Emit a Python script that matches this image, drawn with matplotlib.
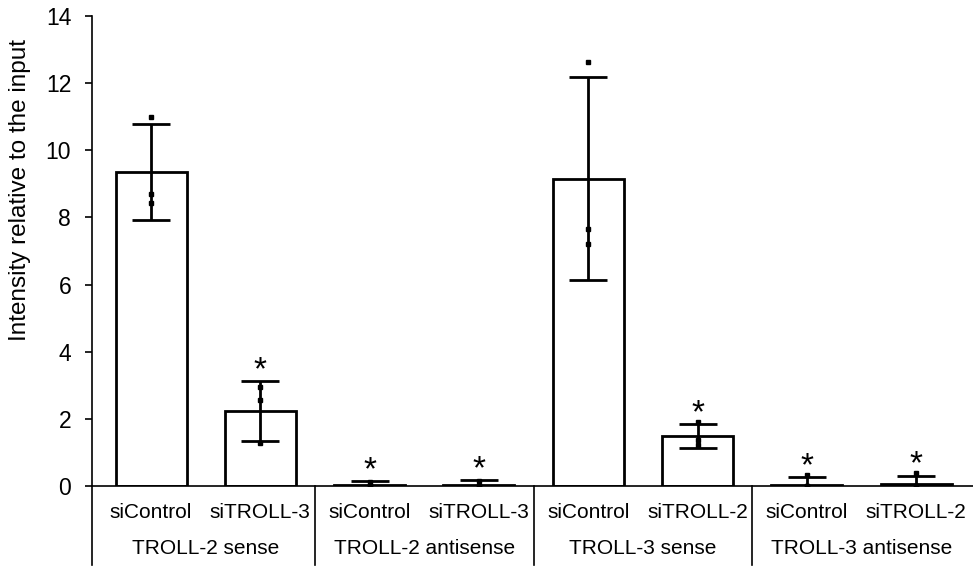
import matplotlib
matplotlib.use("Agg")
import matplotlib.pyplot as plt
import numpy as np

plt.rcParams['font.family'] = ['Liberation Sans', 'DejaVu Sans']

# qPCR intensities (relative to input) for each target / siRNA combination
groups = ["TROLL-2 sense", "TROLL-2 antisense", "TROLL-3 sense", "TROLL-3 antisense"]
conditions = ["siControl", "siTROLL-3", "siControl", "siTROLL-3",
              "siControl", "siTROLL-2", "siControl", "siTROLL-2"]
means = [9.36, 2.24, 0.03, 0.04, 9.15, 1.48, 0.04, 0.05]
errors = [1.43, 0.89, 0.11, 0.13, 3.02, 0.36, 0.22, 0.26]
replicates = [
    [11.0, 8.69, 8.43],
    [2.94, 2.56, 1.27],
    [0.12, 0.0, 0.0],
    [0.15, 0.0, 0.0],
    [12.64, 7.66, 7.21],
    [1.92, 1.37, 1.22],
    [0.33, 0.0, 0.0],
    [0.39, 0.0, 0.0],
]
significant = [False, True, True, True, False, True, True, True]

fig = plt.figure(figsize=(9.73, 5.69), dpi=100)
ax = fig.add_axes([92 / 973, 1 - 486 / 569, (973 - 92) / 973, 470 / 569])

x = np.arange(len(means))
ax.bar(x, means, width=0.65, facecolor="white", edgecolor="black", linewidth=2.0, zorder=2)
ax.errorbar(x, means, yerr=errors, fmt="none", ecolor="black", elinewidth=2.0,
            capsize=13.5, capthick=2.0, zorder=3)
for xi, pts in zip(x, replicates):
    ax.plot([xi] * len(pts), pts, linestyle="none", marker="s", markersize=3,
            color="black", zorder=4)

for xi, m, e, sig in zip(x, means, errors, significant):
    if sig:
        ax.annotate("*", (xi, m + e), xytext=(0, 1.5), textcoords="offset points",
                    ha="center", va="baseline", fontsize=24)

ax.set_xlim(-0.54, 7.52)
ax.set_ylim(0, 14)
ax.set_yticks(np.arange(0, 15, 2))
ax.tick_params(axis="y", labelsize=16.5, direction="out", length=5, width=1.2, pad=10)
ax.set_ylabel("Intensity relative to the input", fontsize=17.5)
ax.yaxis.set_label_coords(-(92 - 31) / 881, (486 - 190) / 470)

ax.set_xticks([])
for side in ("top", "right"):
    ax.spines[side].set_visible(False)
ax.spines["left"].set_linewidth(1.2)
ax.spines["bottom"].set_linewidth(1.2)

# two-level category axis below the plot
trans = ax.get_xaxis_transform()
depth = -(565 - 486) / 470
for xb in [-0.54, 1.5, 3.5, 5.5]:
    ax.plot([xb, xb], [0, depth], transform=trans, color="black", linewidth=1.2,
            clip_on=False)
for xi, lab in zip(x, conditions):
    ax.text(xi, -(512 - 486) / 470, lab, transform=trans, ha="center", va="center",
            fontsize=15)
for gi, g in enumerate(groups):
    ax.text(2 * gi + 0.5, -(548 - 486) / 470, g, transform=trans, ha="center",
            va="center", fontsize=15)

fig.savefig("out.png", dpi=100)
